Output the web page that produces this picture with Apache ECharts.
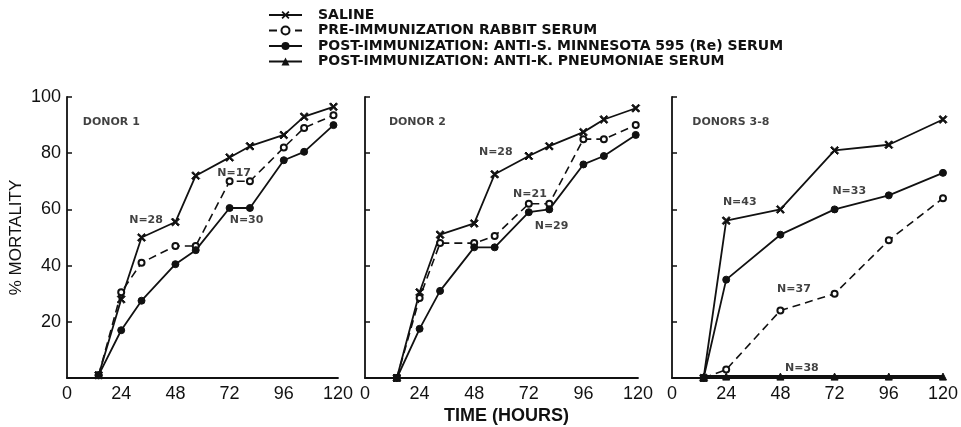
<!DOCTYPE html>
<html>
<head>
<meta charset="utf-8">
<script src="https://cdn.jsdelivr.net/npm/echarts@6/dist/echarts.min.js"></script>
<style>
  html, body { margin: 0; padding: 0; background: #fff; }
  #container { width: 961px; height: 427px; }
</style>
</head>
<body>
<div id="container"></div>
<script>
// hours after challenge, read per panel
var donor1Hours = [14, 24, 33, 48, 57, 72, 81, 96, 105, 118];
var donor1Saline = [1, 28, 50, 55.5, 72, 78.5, 82.5, 86.5, 93, 96.5];
var donor1Pre = [1, 30.5, 41, 47, 47, 70, 70, 82, 89, 93.5];
var donor1Post = [1, 17, 27.5, 40.5, 45.5, 60.5, 60.5, 77.5, 80.5, 90];

var donor2Hours = [14, 24, 33, 48, 57, 72, 81, 96, 105, 119];
var donor2Saline = [0, 30.5, 51, 55, 72.5, 79, 82.5, 87.5, 92, 96];
var donor2Pre = [0, 28.5, 48, 48, 50.5, 62, 62, 85, 85, 90];
var donor2Post = [0, 17.5, 31, 46.5, 46.5, 59, 60, 76, 79, 86.5];

var donors38Hours = [14, 24, 48, 72, 96, 120];
var donors38Saline = [0, 56, 60, 81, 83, 92];
var donors38Pre = [0, 3, 24, 30, 49, 64];
var donors38Post = [0, 35, 51, 60, 65, 73];
var donors38Kpn = [0.5, 0.5, 0.5, 0.5, 0.5, 0.5];

var xTicks = [0, 24, 48, 72, 96, 120];
var yTicks = [0, 20, 40, 60, 80, 100];

var names = [
  'SALINE',
  'PRE-IMMUNIZATION RABBIT SERUM',
  'POST-IMMUNIZATION: ANTI-S. MINNESOTA 595 (Re) SERUM',
  'POST-IMMUNIZATION: ANTI-K. PNEUMONIAE SERUM'
];

// [panel, text, hour, value, align]
var notes = [
  [0, 'DONOR 1', 7, 91, 'left'],
  [0, 'N=28', 35, 56, 'center'],
  [0, 'N=17', 74, 73, 'center'],
  [0, 'N=30', 79.5, 56, 'center'],
  [1, 'DONOR 2', 10.5, 91, 'left'],
  [1, 'N=28', 57.5, 80.5, 'center'],
  [1, 'N=21', 72.5, 65.5, 'center'],
  [1, 'N=29', 82, 54, 'center'],
  [2, 'DONORS 3-8', 9, 91, 'left'],
  [2, 'N=43', 30, 62.5, 'center'],
  [2, 'N=33', 78.5, 66.5, 'center'],
  [2, 'N=37', 54, 31.5, 'center'],
  [2, 'N=38', 57.5, 3.5, 'center']
];

var ink = '#111';
var font = 'Liberation Sans';
var boldFont = 'DejaVu Sans';
var xMark = 'path://M0,1.5 L1.5,0 L5,3.5 L8.5,0 L10,1.5 L6.5,5 L10,8.5 L8.5,10 L5,6.5 L1.5,10 L0,8.5 L3.5,5 Z';

function pairs(hours, vals) {
  return hours.map(function (h, i) { return [h, vals[i]]; });
}

function lineSeries(kind, idx, hours, vals) {
  var s = {
    name: names[kind],
    type: 'line',
    xAxisIndex: idx,
    yAxisIndex: idx,
    data: pairs(hours, vals),
    color: ink,
    itemStyle: { color: ink, borderColor: ink },
    lineStyle: { color: ink, width: 1.8 },
    showAllSymbol: true,
    animation: false,
    z: 3
  };
  if (kind === 0) { s.symbol = xMark; s.symbolSize = 8; }
  if (kind === 1) {
    s.symbol = 'emptyCircle'; s.symbolSize = 6;
    s.itemStyle = { color: ink, borderColor: ink, borderWidth: 1.3 };
    s.lineStyle = { color: ink, width: 1.6, type: [8, 5] };
  }
  if (kind === 2) { s.symbol = 'circle'; s.symbolSize = 7; }
  if (kind === 3) { s.symbol = 'triangle'; s.symbolSize = 7; s.lineStyle.width = 3.2; }
  return s;
}

var gridLefts = [67, 365, 672];
var gridWidths = [271, 273, 272];

var grids = [], xAxes = [], yAxes = [];
for (var i = 0; i < 3; i++) {
  grids.push({ left: gridLefts[i], width: gridWidths[i], top: 97, height: 281, containLabel: false });
  xAxes.push({
    type: 'value', gridIndex: i, min: xTicks[0], max: xTicks[xTicks.length - 1], interval: 24,
    splitLine: { show: false },
    axisTick: { show: false },
    axisLine: { lineStyle: { color: ink, width: 1.8 } },
    axisLabel: { color: ink, fontSize: 18, fontFamily: font, margin: 7 }
  });
  yAxes.push({
    type: 'value', gridIndex: i, min: yTicks[0], max: yTicks[yTicks.length - 1], interval: 20,
    splitLine: { show: false },
    axisTick: { show: true, inside: true, length: 5, lineStyle: { color: ink, width: 1.5 } },
    axisLine: { show: true, lineStyle: { color: ink, width: 1.8 } },
    axisLabel: {
      show: i === 0, color: ink, fontSize: 18, fontFamily: font, margin: 6,
      formatter: function (v) { return v === 0 ? '' : v; }
    },
    name: i === 0 ? '% MORTALITY' : '',
    nameLocation: 'middle',
    nameGap: 42,
    nameTextStyle: { color: ink, fontSize: 17, fontFamily: font }
  });
}

var series = [
  lineSeries(0, 0, donor1Hours, donor1Saline),
  lineSeries(1, 0, donor1Hours, donor1Pre),
  lineSeries(2, 0, donor1Hours, donor1Post),
  lineSeries(0, 1, donor2Hours, donor2Saline),
  lineSeries(1, 1, donor2Hours, donor2Pre),
  lineSeries(2, 1, donor2Hours, donor2Post),
  lineSeries(0, 2, donors38Hours, donors38Saline),
  lineSeries(1, 2, donors38Hours, donors38Pre),
  lineSeries(2, 2, donors38Hours, donors38Post),
  lineSeries(3, 2, donors38Hours, donors38Kpn)
];

for (var p = 0; p < 3; p++) {
  series.push({
    name: 'notes' + p,
    type: 'scatter',
    xAxisIndex: p,
    yAxisIndex: p,
    symbolSize: 0,
    silent: true,
    animation: false,
    data: notes.filter(function (n) { return n[0] === p; }).map(function (n) {
      return {
        value: [n[2], n[3]],
        name: n[1],
        label: { align: n[4] }
      };
    }),
    label: {
      show: true, position: 'inside', formatter: '{b}',
      color: ink, fontSize: 11, fontWeight: 'bold', fontFamily: boldFont
    }
  });
}

var dom = document.getElementById('container');
var myChart = echarts.init(dom, null, { renderer: 'canvas' });
var option = {
  backgroundColor: '#fff',
  animation: false,
  title: {
    text: 'TIME (HOURS)',
    left: 444,
    top: 407,
    padding: 0,
    textStyle: { color: ink, fontSize: 18, fontWeight: 'bold', fontFamily: font }
  },
  legend: {
    data: names,
    orient: 'vertical',
    left: 268,
    top: 8,
    itemWidth: 33,
    itemHeight: 10,
    itemGap: 1.5,
    padding: 0,
    textStyle: { color: ink, fontSize: 14, fontWeight: 'bold', fontFamily: boldFont, padding: [0, 0, 0, 11] },
    selectedMode: false
  },
  grid: grids,
  xAxis: xAxes,
  yAxis: yAxes,
  series: series
};
myChart.setOption(option, true);
</script>
</body>
</html>
